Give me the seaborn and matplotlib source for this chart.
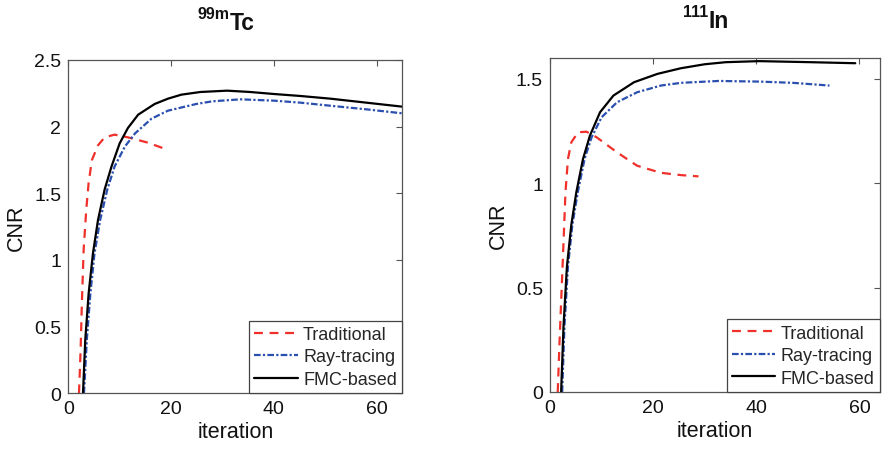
import matplotlib
matplotlib.use("Agg")
import matplotlib.pyplot as plt
import seaborn as sns
import pandas as pd

sns.set_theme(style="white")
plt.rcParams["font.family"] = ["Liberation Sans", "DejaVu Sans"]

# --- 99mTc ---
tc_trad_x = [2.08, 2.4, 2.66, 2.99, 3.5, 3.96, 4.6, 5.78, 7.08, 9.0, 11.6, 15.5, 19.4]
tc_trad_y = [0.0, 0.33, 0.70, 1.08, 1.38, 1.58, 1.75, 1.86, 1.92, 1.94, 1.92, 1.88, 1.825]
tc_ray_x = [3.05, 3.6, 4.3, 5.1, 6.2, 7.6, 9.0, 11.0, 13.0, 16.2, 19.4, 24.9, 28.0,
            33.5, 40.0, 45.2, 51.0, 58.0, 65.0]
tc_ray_y = [0.0, 0.40, 0.75, 1.05, 1.30, 1.53, 1.70, 1.85, 1.95, 2.06, 2.12, 2.17, 2.19,
            2.205, 2.195, 2.18, 2.157, 2.13, 2.10]
tc_fmc_x = [2.86, 3.3, 3.96, 4.8, 5.78, 7.08, 8.4, 10.0, 11.6, 13.6, 16.8, 19.4, 22.0,
            25.7, 30.9, 35.4, 40.0, 45.2, 51.0, 58.0, 65.0]
tc_fmc_y = [0.0, 0.40, 0.75, 1.05, 1.30, 1.53, 1.70, 1.875, 1.99, 2.09, 2.17, 2.21, 2.24,
            2.26, 2.27, 2.26, 2.245, 2.23, 2.21, 2.18, 2.15]

# --- 111In ---
in_trad_x = [1.5, 1.84, 2.23, 2.62, 3.0, 3.48, 4.13, 5.44, 7.08, 9.05, 13.0, 16.9, 21.5,
             25.4, 28.8]
in_trad_y = [0.0, 0.235, 0.475, 0.716, 0.956, 1.116, 1.196, 1.244, 1.247, 1.22, 1.148,
             1.084, 1.05, 1.039, 1.033]
in_ray_x = [2.36, 2.8, 3.48, 4.33, 5.38, 6.7, 8.07, 10.0, 13.0, 16.9, 21.5, 25.4, 32.7,
            40.6, 47.1, 54.2]
in_ray_y = [0.0, 0.315, 0.60, 0.80, 0.956, 1.116, 1.22, 1.316, 1.388, 1.436, 1.468, 1.481,
            1.49, 1.487, 1.481, 1.468]
in_fmc_x = [2.16, 2.62, 3.28, 4.13, 5.1, 6.4, 7.74, 9.7, 12.3, 16.3, 20.85, 25.4, 30.0,
            34.1, 40.6, 50.4, 59.2]
in_fmc_y = [0.0, 0.315, 0.60, 0.80, 0.956, 1.116, 1.228, 1.34, 1.42, 1.484, 1.524, 1.551,
            1.57, 1.58, 1.585, 1.58, 1.575]

series_names = ["Traditional", "Ray-tracing", "FMC-based"]
isotopes = [("99m", "Tc"), ("111", "In")]
x_ticks = [0, 20, 40, 60]
tc_y_ticks = [0, 0.5, 1, 1.5, 2, 2.5]
in_y_ticks = [0, 0.5, 1, 1.5]

styles = {
    "Traditional": dict(color="#f0302a", linestyle=(0, (4, 3))),
    "Ray-tracing": dict(color="#2a4fae", linestyle=(0, (3, 1, 1, 1))),
    "FMC-based": dict(color="black", linestyle="-"),
}

fig = plt.figure(figsize=(8.82, 4.56), dpi=100)
ax1 = fig.add_axes([68.3 / 882, 61.7 / 456, 334 / 882, 333.3 / 456])
ax2 = fig.add_axes([550 / 882, 63 / 456, 330 / 882, 334 / 456])

panels = [
    (ax1, [(tc_trad_x, tc_trad_y), (tc_ray_x, tc_ray_y), (tc_fmc_x, tc_fmc_y)],
     (0, 65), (0, 2.5), tc_y_ticks, ["0", "0.5", "1", "1.5", "2", "2.5"], -4),
    (ax2, [(in_trad_x, in_trad_y), (in_ray_x, in_ray_y), (in_fmc_x, in_fmc_y)],
     (0, 64), (0, 1.6), in_y_ticks, ["0", "0.5", "1", "1.5"], -5),
]

for (ax, data, xlim, ylim, yt, ytl, split), (sup, base) in zip(panels, isotopes):
    for name, (xs, ys) in zip(series_names, data):
        df = pd.DataFrame({"iteration": xs, "CNR": ys})
        sns.lineplot(data=df, x="iteration", y="CNR", ax=ax, label=name,
                     linewidth=1.6, sort=False, estimator=None, **styles[name])
    ax.set_xlim(*xlim)
    ax.set_ylim(*ylim)
    ax.set_xticks(x_ticks)
    ax.set_xticklabels([str(t) for t in x_ticks])
    ax.set_yticks(yt)
    ax.set_yticklabels(ytl)
    ax.tick_params(direction="in", length=4, width=0.8, colors="#555555",
                   labelcolor="#111111", labelsize=14, top=True, right=True,
                   pad=5)
    for sp in ax.spines.values():
        sp.set_visible(True)
        sp.set_color("#555555")
        sp.set_linewidth(0.9)
    ax.set_xlabel("iteration", fontsize=15.5, color="#111111", labelpad=3)
    ax.set_ylabel("CNR", fontsize=15.5, color="#111111", labelpad=5)

    # isotope title: mass number as a superscript ahead of the element symbol
    ax.annotate(sup, xy=(0.5, 1), xycoords="axes fraction",
                xytext=(split, 30), textcoords="offset points",
                ha="right", va="baseline", fontsize=11.5, fontweight="bold",
                color="#111111")
    ax.annotate(base, xy=(0.5, 1), xycoords="axes fraction",
                xytext=(split, 22), textcoords="offset points",
                ha="left", va="baseline", fontsize=16.5, fontweight="bold",
                color="#111111")

    leg = ax.legend(loc="lower right", borderaxespad=0, fancybox=False,
                    framealpha=1, edgecolor="#444444", fontsize=13,
                    handlelength=2.4, handletextpad=0.3, labelspacing=0.3,
                    borderpad=0.3)
    leg.get_frame().set_linewidth(0.9)

fig.savefig("out.png", dpi=100)
